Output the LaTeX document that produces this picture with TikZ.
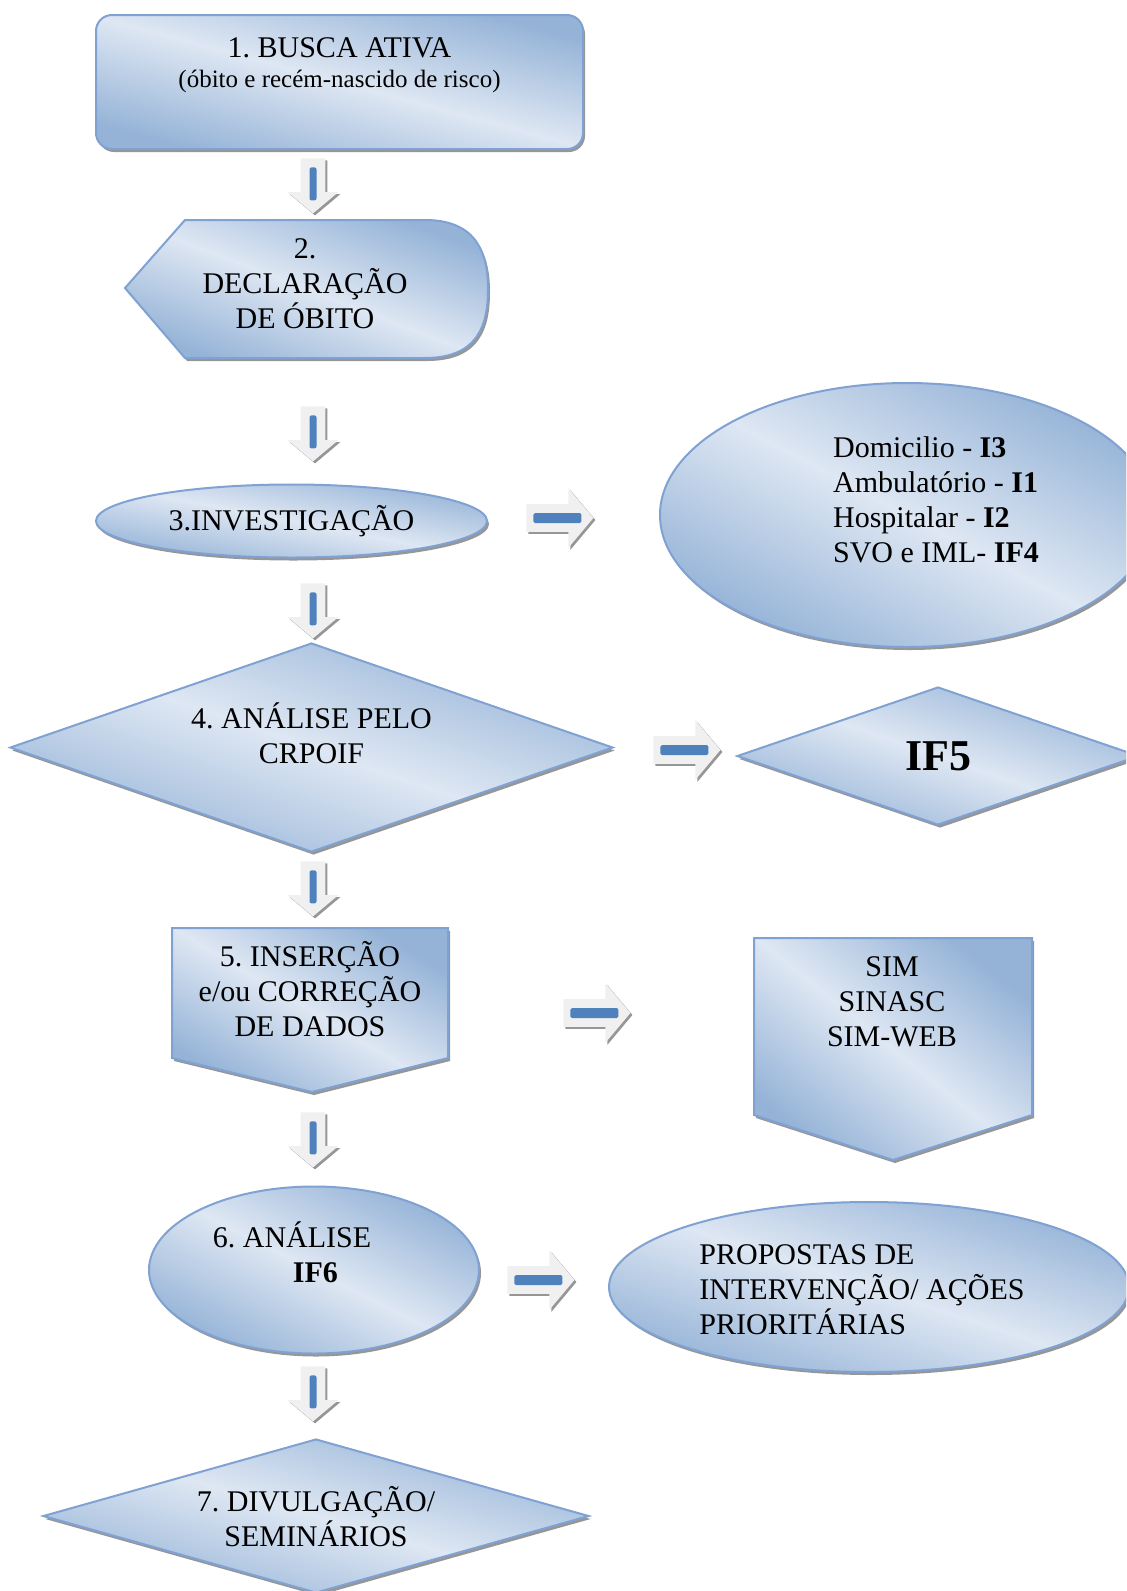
\documentclass[tikz,border=0pt]{standalone}
\usepackage{fontspec}
\setmainfont{Liberation Serif}
\usetikzlibrary{shapes.geometric, shapes.arrows, shadows}

\definecolor{shapeline}{RGB}{128,162,210}
\definecolor{shapedark}{RGB}{149,179,215}
\definecolor{shapelight}{RGB}{222,231,243}
\definecolor{arrowfill}{RGB}{240,240,240}
\definecolor{barblue}{RGB}{79,129,189}
\definecolor{shadowgrey}{RGB}{150,150,150}

\tikzset{
  flowshape/.style={draw=shapeline, line width=1pt, top color=shapedark, bottom color=shapedark, middle color=shapelight, shading angle=#1,
    drop shadow={shadow xshift=1pt, shadow yshift=-1.5pt, fill=shadowgrey, opacity=1}},
  flowshape/.default=-45,
  blockdown/.style={single arrow, shape border rotate=270, anchor=tail, fill=arrowfill, inner sep=6pt, minimum height=27.5pt, minimum width=25pt,
    single arrow head extend=6.5pt, single arrow tip angle=100,
    drop shadow={shadow xshift=1pt, shadow yshift=-1pt, fill=shadowgrey, opacity=1},
    path picture={\fill[barblue, rounded corners=1pt] ([xshift=-1.75pt, yshift=-4.5pt]path picture bounding box.north) rectangle ([xshift=1.75pt, yshift=-21pt]path picture bounding box.north);}},
  blockright/.style={single arrow, anchor=tail, fill=arrowfill, inner sep=6.75pt, minimum height=33.5pt, minimum width=29.5pt,
    single arrow head extend=8pt, single arrow tip angle=100,
    drop shadow={shadow xshift=1pt, shadow yshift=-1pt, fill=shadowgrey, opacity=1},
    path picture={\fill[barblue, rounded corners=0.8pt] ([xshift=3.5pt, yshift=-2.5pt]path picture bounding box.west) rectangle ([xshift=27.5pt, yshift=2.5pt]path picture bounding box.west);}},
}

\begin{document}
\begin{tikzpicture}[x=0.5pt, y=-0.5pt, every node/.style={font={\fontsize{15}{17.5}\selectfont\frenchspacing}, inner sep=0pt, align=center}]
    \useasboundingbox (0,0) rectangle (1126,1591);
    \clip (0,0) rectangle (1126,1591);

    % left column
    \node[flowshape=-15, rectangle, rounded corners=8pt, minimum width=243.5pt, minimum height=67pt,
          label={[yshift=8.5pt]center:1. BUSCA ATIVA\\[-2.5pt]{\fontsize{12.5}{15}\selectfont (óbito e recém-nascido de risco)}}] (busca) at (339.5,82) {};
    \path[flowshape=-21] (125,288) -- (185,220) -- (425,220) .. controls (478,220) and (488,255) .. (488,289) .. controls (488,325) and (478,358) .. (425,358) -- (185,358) -- cycle;
    \node (declaracao) at (305,284) {2.\\DECLARAÇÃO\\DE ÓBITO};
    \node[flowshape=-11, ellipse, minimum width=195.5pt, minimum height=36.5pt] (investigacao) at (291.5,521) {3.INVESTIGAÇÃO};
    \node[flowshape=-19, diamond, minimum width=301.5pt, minimum height=104.5pt,
          label={[yshift=7pt]center:4. ANÁLISE PELO\\CRPOIF}] (crpoif) at (311.5,747.5) {};
    \path[flowshape=-31] (172,928) -- (448,928) -- (448,1058) -- (312,1092) -- (172,1058) -- cycle;
    \node (insercao) at (310,989) {5. INSERÇÃO\\e/ou CORREÇÃO\\DE DADOS};
    \node[flowshape=-27, ellipse, minimum width=165pt, minimum height=83.5pt,
          label={[align=left, xshift=-11pt, yshift=8.75pt]center:6. ANÁLISE\\\hspace*{40pt}\textbf{IF6}}] (analise) at (314,1270) {};
    \node[flowshape=-16, diamond, minimum width=273pt, minimum height=77pt,
          label={[yshift=-0.25pt]center:7. DIVULGAÇÃO/\\SEMINÁRIOS}] (divulgacao) at (316,1516) {};

    % right column
    \node[flowshape=-28, ellipse, minimum width=247pt, minimum height=132pt,
          label={[align=left, xshift=14.5pt, yshift=7.5pt]center:Domicilio - \textbf{I3}\\Ambulatório - \textbf{I1}\\Hospitalar - \textbf{I2}\\SVO e IML- \textbf{IF4}}] (locais) at (907,515) {};
    \node[flowshape=-19, diamond, minimum width=201pt, minimum height=69pt, font={\fontsize{22}{26}\selectfont\bfseries}] (if5) at (938,756) {IF5};
    \path[flowshape=-39] (754,938) -- (1032,938) -- (1032,1115) -- (893,1160) -- (754,1115) -- cycle;
    \node (sistemas) at (892,1002) {SIM\\SINASC\\SIM-WEB};
    \node[flowshape=-18, ellipse, minimum width=260pt, minimum height=85pt,
          label={[align=left, xshift=-3.5pt, yshift=-1.25pt]center:PROPOSTAS DE\\INTERVENÇÃO/ AÇÕES\\PRIORITÁRIAS}] (propostas) at (869,1287) {};

    % block arrows
    \node[blockdown] (down1) at (313,158) {};
    \node[blockdown] (down2) at (313,406) {};
    \node[blockdown] (down3) at (313,583) {};
    \node[blockdown] (down4) at (313,861) {};
    \node[blockdown] (down5) at (313,1112) {};
    \node[blockdown] (down6) at (313,1366) {};
    \node[blockright] (right1) at (526,518) {};
    \node[blockright] (right2) at (653,750) {};
    \node[blockright] (right3) at (563,1013) {};
    \node[blockright] (right4) at (507,1280) {};
\end{tikzpicture}
\end{document}
